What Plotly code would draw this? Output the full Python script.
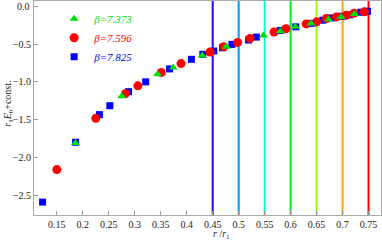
import plotly.graph_objects as go

# ---- data ----
green_x = [0.186, 0.275, 0.344, 0.374, 0.430, 0.476, 0.548, 0.580, 0.609, 0.639, 0.673, 0.697, 0.723]
green_y = [-1.81, -1.19, -0.90, -0.81, -0.65, -0.535, -0.386, -0.329, -0.272, -0.228, -0.175, -0.141, -0.101]

red_x = [0.150, 0.225, 0.282, 0.306, 0.351, 0.389, 0.445, 0.471, 0.498, 0.522, 0.568, 0.591,
         0.630, 0.650, 0.669, 0.688, 0.707, 0.722, 0.742]
red_y = [-2.162, -1.483, -1.157, -1.053, -0.877, -0.759, -0.605, -0.535, -0.478, -0.425, -0.342, -0.298,
         -0.233, -0.206, -0.162, -0.141, -0.118, -0.092, -0.073]

blue_x = [0.1225, 0.186, 0.232, 0.252, 0.288, 0.321, 0.367, 0.409, 0.431, 0.452, 0.469, 0.487,
          0.519, 0.534, 0.580, 0.610, 0.641, 0.662, 0.678, 0.699, 0.713, 0.735, 0.748]
blue_y = [-2.592, -1.80, -1.434, -1.316, -1.13, -1.0, -0.829, -0.702, -0.636, -0.592, -0.549, -0.504,
          -0.447, -0.408, -0.32, -0.272, -0.225, -0.184, -0.154, -0.132, -0.114, -0.079, -0.066]

series_names = ["β=7.373", "β=7.596", "β=7.825"]
series_colors = ["#00dd00", "#ff0000", "#0000ff"]

vline_x = [0.45, 0.50, 0.55, 0.60, 0.65, 0.70, 0.75]
vline_colors = ["#3300ff", "#0099ff", "#00ffdd", "#00ee22", "#99ff00", "#ffaa00", "#ff0000"]

x_ticks = [0.15, 0.2, 0.25, 0.3, 0.35, 0.4, 0.45, 0.5, 0.55, 0.6, 0.65, 0.7, 0.75]
x_labels = ["0.15", "0.2", "0.25", "0.3", "0.35", "0.4", "0.45", "0.5", "0.55", "0.6", "0.65", "0.7", "0.75"]
y_ticks = [0.0, -0.5, -1.0, -1.5, -2.0, -2.5]
y_labels = ["0.0", "\u22120.5", "\u22121.0", "\u22121.5", "\u22122.0", "\u22122.5"]

fig = go.Figure()

for xv, c in zip(vline_x, vline_colors):
    fig.add_shape(type="line", x0=xv, x1=xv, y0=0, y1=1, xref="x", yref="paper",
                  line=dict(color=c, width=2), layer="below")

symbols = ["triangle-up", "circle", "square"]
sizes = [8, 9, 7]
data = [(green_x, green_y), (red_x, red_y), (blue_x, blue_y)]
traces = []
for (xs, ys), name, col, sym, sz in zip(data, series_names, series_colors, symbols, sizes):
    traces.append(go.Scatter(
        x=xs, y=ys, mode="markers",
        marker=dict(symbol=sym, size=sz, color=col, line=dict(width=0)),
        name=f'<span style="color:{col}"><i>{name}</i></span>',
    ))
for t in reversed(traces):
    fig.add_trace(t)

fig.update_layout(
    width=382, height=240,
    margin=dict(l=34, r=1, t=1, b=25, autoexpand=False),
    plot_bgcolor="white", paper_bgcolor="white",
    font=dict(family="Liberation Serif", size=10, color="#222"),
    showlegend=True,
    hovermode=False,
    legend=dict(x=0.058, y=0.985, xanchor="left", yanchor="top",
                bgcolor="rgba(0,0,0,0)", font=dict(size=11, family="Liberation Serif"),
                traceorder="reversed", itemwidth=30, tracegroupgap=0),
)

fig.update_xaxes(range=[0.106, 0.774], tickmode="array", tickvals=x_ticks, ticktext=x_labels,
                 automargin=False, ticks="inside", ticklen=4, tickcolor="#999",
                 ticklabeloverflow="allow",
                 showline=True, linecolor="#aaa", linewidth=1, mirror=True,
                 showgrid=False, zeroline=False)
# the top label (0.0) is written as an annotation below, as plotly drops it at the edge
fig.update_yaxes(range=[-2.763, 0.07], tickmode="array", tickvals=y_ticks,
                 ticktext=[""] + y_labels[1:],
                 automargin=False, ticks="inside", ticklen=4, tickcolor="#999",
                 ticklabeloverflow="allow",
                 showline=True, linecolor="#aaa", linewidth=1, mirror=True,
                 showgrid=False, zeroline=False)
fig.add_annotation(text=y_labels[0], x=-0.006, y=y_ticks[0], xref="paper", yref="y",
                   showarrow=False, xanchor="right", yanchor="middle",
                   font=dict(size=10, family="Liberation Serif", color="#222"))

fig.add_annotation(text="<i>r</i> /<i>r</i><sub>1</sub>", x=0.54, y=-0.09,
                   xref="paper", yref="paper", showarrow=False,
                   xanchor="center", yanchor="middle", font=dict(size=10, family="Liberation Serif"))
fig.add_annotation(text="<i>r</i><sub>1</sub><i>E</i><sub>0</sub>+const.", x=-0.072, y=0.52,
                   xref="paper", yref="paper", showarrow=False, textangle=-90,
                   xanchor="center", yanchor="middle", font=dict(size=10, family="Liberation Serif"))

fig.write_html("out.html", config={"displayModeBar": False, "staticPlot": True})

# remove the default page margin so the figure sits at the window's top-left corner
with open("out.html", encoding="utf-8") as f:
    html = f.read()
html = html.replace("<head>", "<head><style>html,body{margin:0;padding:0;overflow:hidden;}</style>", 1)
with open("out.html", "w", encoding="utf-8") as f:
    f.write(html)
